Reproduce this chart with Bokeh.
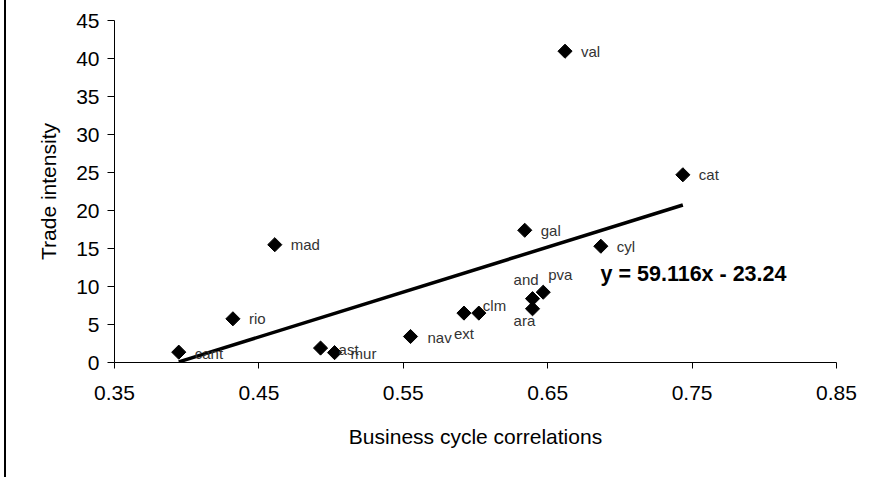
import numpy as np
from bokeh.plotting import figure
from bokeh.models import ColumnDataSource, Label, FixedTicker, Range1d, InlineStyleSheet
from bokeh.core.properties import value
from bokeh.embed import file_html
from bokeh.resources import INLINE

# ---- data ----
regions = ["cant", "rio", "ast", "mur", "mad", "nav", "ext", "clm",
           "and", "ara", "pva", "gal", "cyl", "val", "cat"]
bc_corr = [0.3945, 0.432, 0.4927, 0.5024, 0.461, 0.555, 0.592, 0.6023,
           0.6395, 0.6395, 0.6469, 0.6341, 0.6868, 0.662, 0.7436]
trade_int = [1.36, 5.75, 1.9, 1.3, 15.5, 3.42, 6.5, 6.5,
             8.4, 7.07, 9.25, 17.4, 15.3, 40.96, 24.7]
slope = 59.116
intercept = -23.24
x_ticks = [0.35, 0.45, 0.55, 0.65, 0.75, 0.85]
y_ticks = [0, 5, 10, 15, 20, 25, 30, 35, 40, 45]

# ---- label placement (screen px offsets from marker centre) ----
default_off = (16, 0)
label_off = {"ast": (18, 1), "mur": (16, 1), "cant": (16, 1),
             "and": (-19, -19), "pva": (5, -18), "ara": (-19, 12),
             "ext": (-10, 20), "clm": (4, -8), "nav": (17, 1)}

FONT = "Liberation Sans"

src = ColumnDataSource(dict(
    x=bc_corr, y=trade_int, name=regions,
    dx=[label_off.get(r, default_off)[0] for r in regions],
    dy=[label_off.get(r, default_off)[1] for r in regions],
))

p = figure(output_backend="svg", toolbar_location=None,
           frame_width=722, frame_height=342,
           min_border_left=108, min_border_top=20,
           min_border_right=30, min_border_bottom=115,
           x_range=Range1d(0.35, 0.85), y_range=Range1d(0, 45))
p.outline_line_color = None
p.grid.visible = False
p.background_fill_color = "white"
p.border_fill_color = "white"

# chart-area border (only its left edge is visible in the reference)
p.stylesheets = [InlineStyleSheet(
    css=":host { border-left: 2px solid black; margin-left: 4px; }")]

# trendline
xl = np.array([min(bc_corr), max(bc_corr)])
p.line(xl, slope * xl + intercept, line_color="black", line_width=3.5)

# points
p.scatter("x", "y", source=src, marker="square", angle=np.pi / 4, size=10,
          fill_color="black", line_color="black")

# point labels
p.text("x", "y", text="name", source=src, x_offset="dx", y_offset="dy",
       text_font=value(FONT), text_font_size="15px", text_color="#333333",
       text_baseline="middle", text_align="left")

# equation
eq = Label(x=0.6866, y=11.67, text=f"y = {slope}x - {abs(intercept)}",
           text_font=FONT, text_font_size="21.5px", text_font_style="bold",
           text_color="black", text_baseline="middle", text_align="left")
p.add_layout(eq)

for ax in (p.xaxis[0], p.yaxis[0]):
    ax.major_label_text_font = FONT
    ax.major_label_text_font_size = "21px"
    ax.major_label_text_color = "black"
    ax.axis_label_text_font = FONT
    ax.axis_label_text_font_size = "21px"
    ax.axis_label_text_font_style = "normal"
    ax.axis_label_text_color = "black"
    ax.axis_line_color = "black"
    ax.major_tick_line_color = "black"
    ax.minor_tick_line_color = None
    ax.major_tick_in = 0

p.xaxis.major_tick_out = 6
p.yaxis.major_tick_out = 7
p.xaxis.ticker = FixedTicker(ticks=x_ticks)
p.yaxis.ticker = FixedTicker(ticks=y_ticks)
p.xaxis.axis_label = "Business cycle correlations"
p.yaxis.axis_label = "Trade intensity"
p.xaxis.major_label_standoff = 17
p.yaxis.major_label_standoff = 8
p.xaxis.axis_label_standoff = 22
p.yaxis.axis_label_standoff = 13

open("out.html", "w").write(file_html(p, INLINE))
